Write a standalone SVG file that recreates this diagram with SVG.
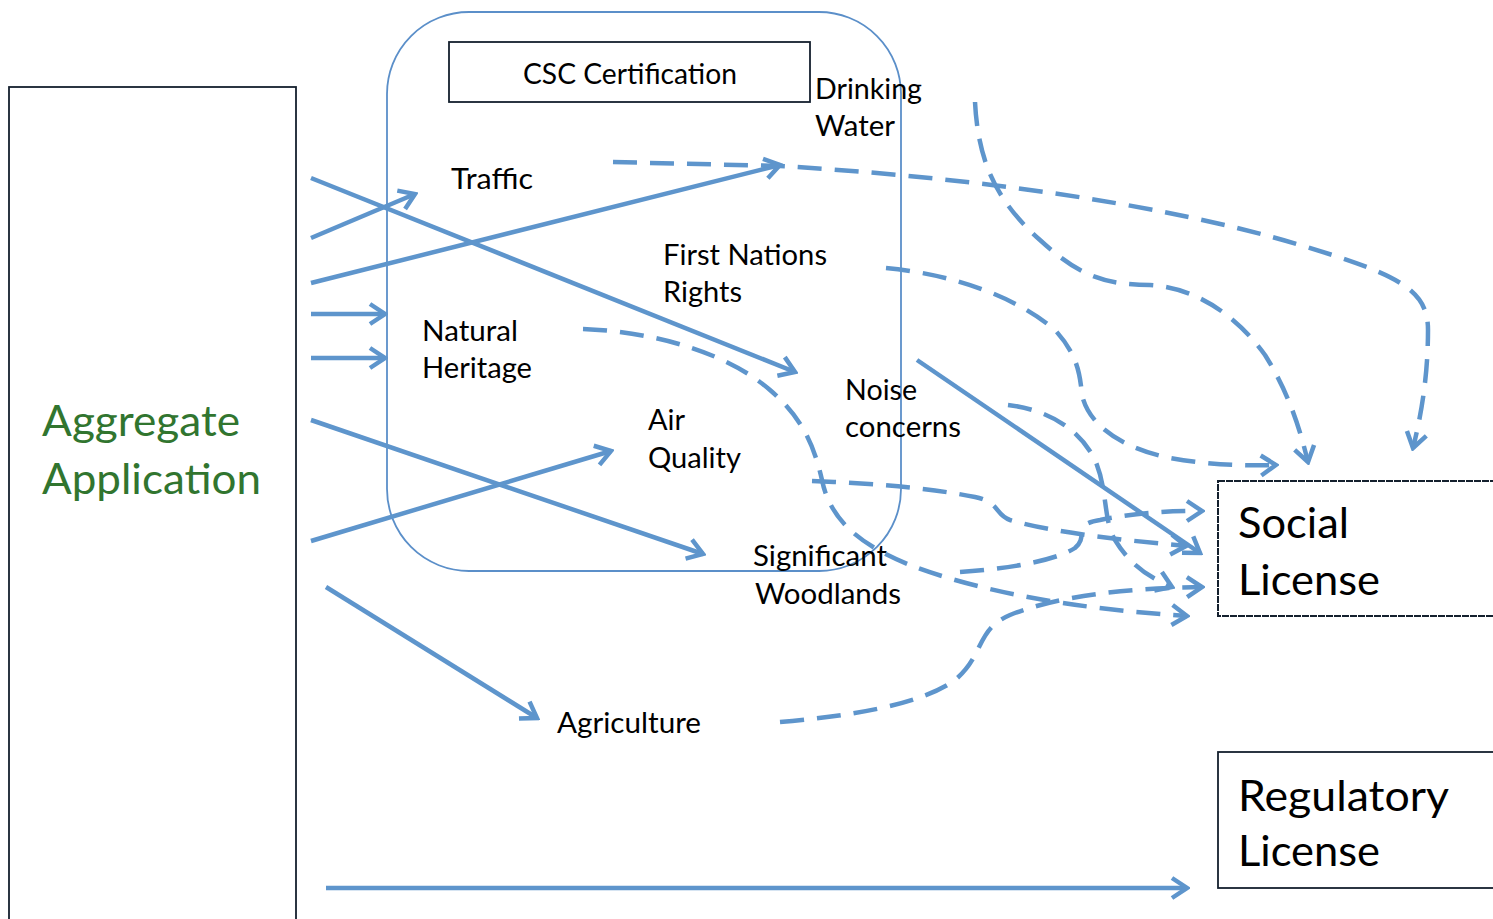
<svg xmlns="http://www.w3.org/2000/svg" width="1493" height="919" viewBox="0 0 1493 919">
<defs>
<style>
.box{fill:#fff;stroke:#14202e;stroke-width:1.8}
.dbox{fill:#fff;stroke:#14202e;stroke-width:2;stroke-dasharray:7 1}
.cont{fill:none;stroke:#5b8fc9;stroke-width:1.8}
.lbl{font-family:Lato,"Liberation Sans",sans-serif;font-size:28px;fill:#000}
.big{font-family:Lato,"Liberation Sans",sans-serif;font-size:42px;fill:#000}
.agg{font-family:Lato,"Liberation Sans",sans-serif;font-size:42px;fill:#31752f}
.s{fill:none;stroke:#5e95cc;stroke-width:4.5;marker-end:url(#ah)}
.d{fill:none;stroke:#5e95cc;stroke-width:4.5;stroke-dasharray:24 13;marker-end:url(#ah)}
</style>
<marker id="ah" viewBox="-18 -13 21 26" refX="0" refY="0" markerWidth="21" markerHeight="26" markerUnits="userSpaceOnUse" orient="auto">
<path d="M-15,-10 L0,0 L-15,10" fill="none" stroke="#5e95cc" stroke-width="4.5" stroke-dasharray="none" stroke-linejoin="miter"/>
</marker>
</defs>
<rect width="1493" height="919" fill="#fff"/>

<g id="aggregate-application">
<rect class="box" x="9" y="87" width="287" height="850"/>
<text class="agg" x="42" y="436" textLength="198" lengthAdjust="spacingAndGlyphs">Aggregate</text>
<text class="agg" x="42" y="494" textLength="219" lengthAdjust="spacingAndGlyphs">Application</text>
</g>

<g id="csc-container">
<rect class="cont" x="387" y="12" width="514" height="559" rx="82" ry="82"/>
</g>

<g id="csc-certification">
<rect class="box" x="449" y="42" width="361" height="60"/>
<text class="lbl" x="523" y="84" textLength="214" lengthAdjust="spacingAndGlyphs">CSC Certification</text>
</g>

<g id="drinking-water">
<text class="lbl" x="815" y="99" textLength="107" lengthAdjust="spacingAndGlyphs">Drinking</text>
<text class="lbl" x="815" y="136" textLength="80" lengthAdjust="spacingAndGlyphs">Water</text>
</g>
<g id="traffic">
<text class="lbl" x="451" y="189" textLength="82" lengthAdjust="spacingAndGlyphs">Traffic</text>
</g>
<g id="first-nations-rights">
<text class="lbl" x="663" y="265" textLength="164" lengthAdjust="spacingAndGlyphs">First Nations</text>
<text class="lbl" x="663" y="302" textLength="79" lengthAdjust="spacingAndGlyphs">Rights</text>
</g>
<g id="natural-heritage">
<text class="lbl" x="422" y="341" textLength="96" lengthAdjust="spacingAndGlyphs">Natural</text>
<text class="lbl" x="422" y="378" textLength="110" lengthAdjust="spacingAndGlyphs">Heritage</text>
</g>
<g id="noise-concerns">
<text class="lbl" x="845" y="400" textLength="72" lengthAdjust="spacingAndGlyphs">Noise</text>
<text class="lbl" x="845" y="437" textLength="116" lengthAdjust="spacingAndGlyphs">concerns</text>
</g>
<g id="air-quality">
<text class="lbl" x="648" y="430" textLength="37" lengthAdjust="spacingAndGlyphs">Air</text>
<text class="lbl" x="648" y="468" textLength="93" lengthAdjust="spacingAndGlyphs">Quality</text>
</g>
<g id="significant-woodlands">
<text class="lbl" x="753" y="566" textLength="134" lengthAdjust="spacingAndGlyphs">Significant</text>
<text class="lbl" x="755" y="604" textLength="146" lengthAdjust="spacingAndGlyphs">Woodlands</text>
</g>
<g id="agriculture">
<text class="lbl" x="557" y="733" textLength="144" lengthAdjust="spacingAndGlyphs">Agriculture</text>
</g>

<g id="social-license">
<rect class="dbox" x="1218" y="481" width="290" height="135"/>
<text class="big" x="1238" y="538" textLength="111" lengthAdjust="spacingAndGlyphs">Social</text>
<text class="big" x="1238" y="595" textLength="142" lengthAdjust="spacingAndGlyphs">License</text>
</g>
<g id="regulatory-license">
<rect class="box" x="1218" y="752" width="290" height="136"/>
<text class="big" x="1238" y="811" textLength="211" lengthAdjust="spacingAndGlyphs">Regulatory</text>
<text class="big" x="1238" y="866" textLength="142" lengthAdjust="spacingAndGlyphs">License</text>
</g>

<g id="connectors">
<path class="s" d="M311,178 L795,372"/>
<path class="s" d="M311,238 L415,194"/>
<path class="s" d="M311,283 L780,165"/>
<path class="s" d="M311,314 L385,314"/>
<path class="s" d="M311,358 L385,358"/>
<path class="s" d="M311,420 L703,554"/>
<path class="s" d="M311,541 L611,451"/>
<path class="s" d="M326,587 L537,718"/>
<path class="s" d="M326,888 L1187,888"/>
<path class="s" d="M917,360 L1200,553"/>

<path class="d" d="M613,162 L780,166 C950,176 1150,200 1300,245 C1400,275 1428,290 1428,330 C1428,380 1420,420 1413,448"/>
<path class="d" d="M975,102 C978,160 995,200 1040,240 C1075,272 1100,285 1150,285 C1200,288 1240,320 1265,355 C1290,395 1300,430 1308,462"/>
<path class="d" d="M886,268 C960,275 1020,300 1055,330 C1078,355 1080,375 1082,395 C1090,430 1130,450 1170,458 C1210,465 1245,466 1276,465"/>
<path class="d" d="M583,329 C660,332 730,355 770,390 C805,420 815,450 822,480 C830,520 860,545 910,565 C970,588 1060,608 1187,616"/>
<path class="d" d="M812,481 C870,483 930,488 975,497 C1000,502 995,515 1010,520 C1050,532 1120,540 1186,546"/>
<path class="d" d="M1008,405 C1050,410 1080,430 1095,460 C1108,490 1103,520 1115,540 C1130,565 1150,578 1172,587"/>
<path class="d" d="M960,572 C1020,568 1060,558 1075,548 C1090,535 1070,525 1100,520 C1140,512 1170,511 1202,511"/>
<path class="d" d="M780,722 C850,716 920,705 955,680 C985,655 975,630 1010,615 C1060,595 1130,588 1202,587"/>
</g>
</svg>
